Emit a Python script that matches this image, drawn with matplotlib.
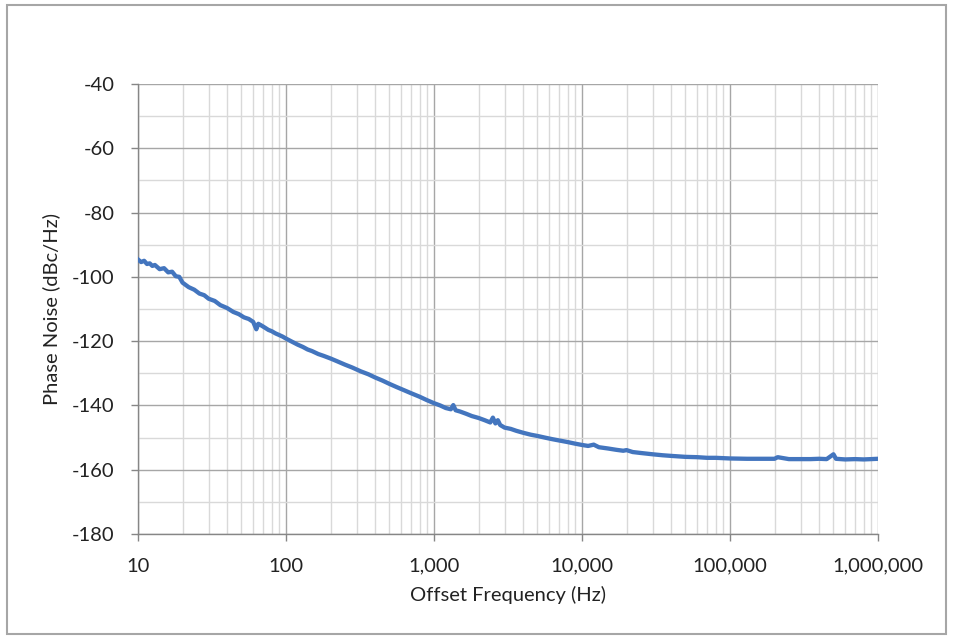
import matplotlib
matplotlib.use("Agg")
import matplotlib.pyplot as plt
from matplotlib.ticker import FixedLocator, LogLocator, NullFormatter, FuncFormatter
from matplotlib.patches import Rectangle

freq_hz = [10, 10.5, 11, 11.5, 12, 12.5, 13, 14, 15, 16, 17, 18, 19, 20, 22, 24, 26, 28, 30, 33,
           36, 40, 44, 48, 52, 56, 60, 63, 65, 68, 72, 76, 80, 85, 90, 95, 100, 110, 120, 130,
           140, 150, 165, 180, 200, 220, 250, 280, 320, 360, 400, 450, 500, 560, 630, 700, 800,
           900, 1000, 1100, 1200, 1300, 1350, 1400, 1500, 1650, 1800, 2000, 2200, 2400, 2500,
           2600, 2700, 2800, 2900, 3000, 3300, 3600, 4000, 4500, 5000, 5600, 6300, 7000, 8000,
           9000, 10000, 11000, 12000, 13000, 15000, 17000, 19000, 20000, 22000, 25000, 30000,
           35000, 40000, 50000, 60000, 70000, 80000, 100000, 130000, 160000, 200000, 210000,
           250000, 300000, 350000, 400000, 450000, 500000, 520000, 600000, 700000, 800000,
           900000, 1000000]
phase_noise = [-94.6, -95.4, -95.0, -96.0, -95.8, -96.6, -96.3, -97.6, -97.3, -98.6, -98.4, -99.8,
               -100.0, -101.8, -103.2, -104.0, -105.2, -105.7, -106.8, -107.5, -108.8, -109.7,
               -110.9, -111.6, -112.6, -113.1, -114.0, -116.3, -114.6, -115.1, -115.8, -116.5,
               -116.9, -117.6, -118.1, -118.6, -119.2, -120.2, -121.1, -121.8, -122.6, -123.1,
               -124.0, -124.6, -125.4, -126.2, -127.3, -128.2, -129.4, -130.3, -131.3, -132.3,
               -133.3, -134.3, -135.3, -136.2, -137.3, -138.4, -139.3, -140.0, -140.8, -141.2,
               -139.9, -141.5, -141.9, -142.6, -143.3, -143.9, -144.6, -145.3, -143.8, -145.6,
               -144.6, -146.1, -146.5, -146.9, -147.3, -147.9, -148.5, -149.1, -149.5, -150.0,
               -150.5, -150.9, -151.4, -151.9, -152.3, -152.6, -152.2, -153.0, -153.4, -153.8,
               -154.1, -153.9, -154.5, -154.8, -155.2, -155.5, -155.7, -156.0, -156.1, -156.3,
               -156.3, -156.5, -156.6, -156.6, -156.6, -156.1, -156.7, -156.7, -156.7, -156.6,
               -156.7, -155.2, -156.6, -156.8, -156.7, -156.8, -156.7, -156.6]

y_ticks = [-40, -60, -80, -100, -120, -140, -160, -180]
x_ticks = [10, 100, 1000, 10000, 100000, 1000000]

plt.rcParams['font.family'] = ['Lato', 'DejaVu Sans']
plt.rcParams['axes.unicode_minus'] = False

W, H = 956, 637
fig = plt.figure(figsize=(W / 100, H / 100), dpi=100)
fig.patch.set_facecolor('white')
fig.patches.append(Rectangle((7 / W, 3 / H), 939 / W, 629 / H, transform=fig.transFigure,
                             fill=False, edgecolor='#A6A6A6', linewidth=1.5))

ax = fig.add_axes([138 / W, 1 - 534 / H, 740 / W, 450 / H])
ax.set_xscale('log')
ax.set_xlim(10, 1e6)
ax.set_ylim(-180, -40)

ax.yaxis.set_major_locator(FixedLocator(y_ticks))
ax.yaxis.set_minor_locator(FixedLocator([-50, -70, -90, -110, -130, -150, -170]))
ax.xaxis.set_major_locator(FixedLocator(x_ticks))
ax.xaxis.set_minor_locator(LogLocator(base=10, subs=range(2, 10)))
ax.xaxis.set_major_formatter(FuncFormatter(lambda v, p: f"{int(round(v)):,}"))
ax.xaxis.set_minor_formatter(NullFormatter())

ax.grid(which='major', color='#A6A6A6', linewidth=1.0)
ax.grid(which='minor', color='#D9D9D9', linewidth=1.0)
ax.set_axisbelow(True)

for s in ['top', 'right']:
    ax.spines[s].set_visible(False)
for s in ['left', 'bottom']:
    ax.spines[s].set_color('#868686')
    ax.spines[s].set_linewidth(1.0)

ax.tick_params(which='major', direction='out', length=5, width=1, color='#868686',
               labelsize=14.5, labelcolor='#222222', pad=12)
ax.tick_params(which='minor', length=0)

ax.plot(freq_hz, phase_noise, color='#4375BE', linewidth=3.1, solid_joinstyle='round', zorder=3)

ax.set_xlabel('Offset Frequency (Hz)', fontsize=14.5, color='#222222', labelpad=8)
ax.set_ylabel('Phase Noise (dBc/Hz)', fontsize=14.5, color='#222222', labelpad=8)

fig.savefig('out.png', dpi=100)
